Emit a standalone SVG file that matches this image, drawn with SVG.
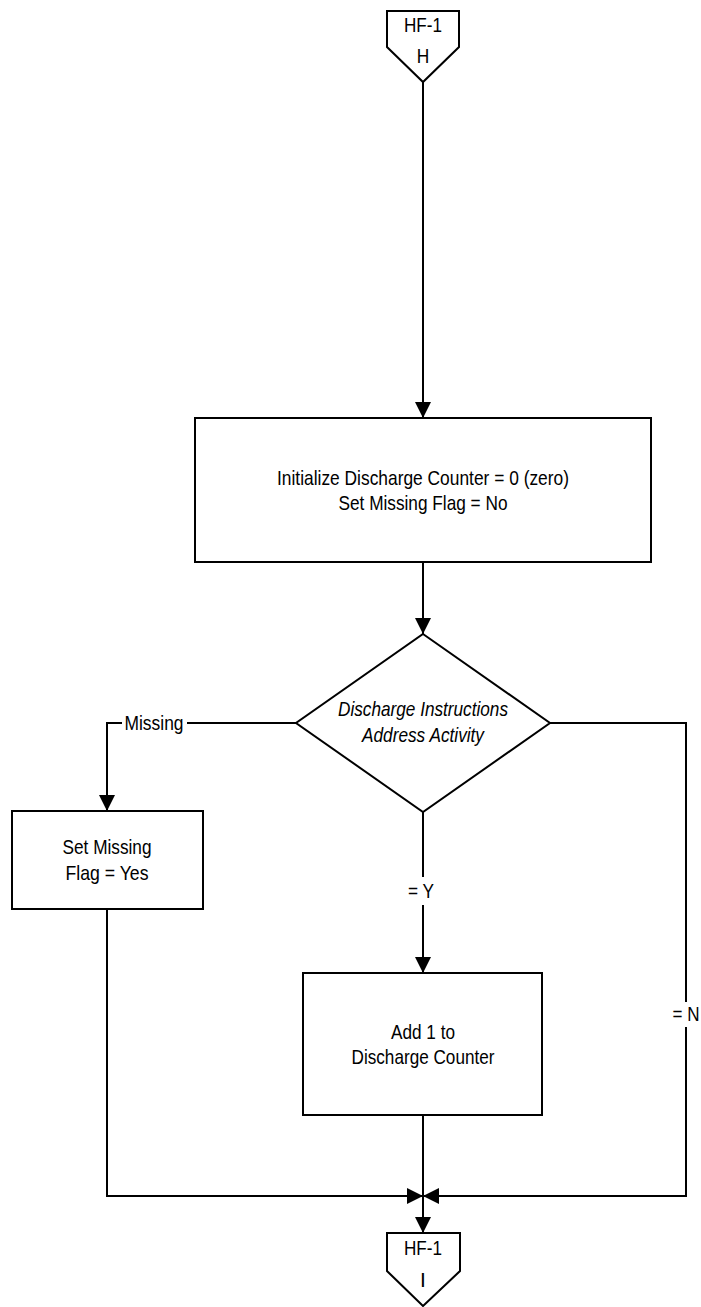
<svg xmlns="http://www.w3.org/2000/svg" width="701" height="1307" viewBox="0 0 701 1307">
<style>
.s{fill:#fff;stroke:#000;stroke-width:2}
.c{fill:none;stroke:#000;stroke-width:2}
text{font-family:"Liberation Sans Narrow","Arial Narrow","Liberation Sans",Arial,sans-serif;font-size:21px;fill:#000;text-anchor:middle}
.i{font-style:italic}
</style>
<defs>
<marker id="a" markerUnits="userSpaceOnUse" markerWidth="16" markerHeight="16" refX="16" refY="8" orient="auto">
<path d="M0,0 L16,8 L0,16 z" fill="#000"/>
</marker>
</defs>
<rect width="701" height="1307" fill="#fff"/>
<g id="connectors">
<path class="c" d="M423,82 V418" marker-end="url(#a)"/>
<path class="c" d="M423,562 V634" marker-end="url(#a)"/>
<path class="c" d="M296,723 H187"/>
<path class="c" d="M122,723 H107 V811" marker-end="url(#a)"/>
<text x="154" y="730" textLength="59" lengthAdjust="spacingAndGlyphs">Missing</text>
<path class="c" d="M423,812 V877"/>
<path class="c" d="M423,905 V973" marker-end="url(#a)"/>
<text x="421" y="898" textLength="26" lengthAdjust="spacingAndGlyphs">= Y</text>
<path class="c" d="M550,723 H686 V1002"/>
<path class="c" d="M686,1027 V1196 H423" marker-end="url(#a)"/>
<text x="686" y="1021" textLength="27" lengthAdjust="spacingAndGlyphs">= N</text>
<path class="c" d="M107,909 V1196 H423" marker-end="url(#a)"/>
<path class="c" d="M423,1115 V1233" marker-end="url(#a)"/>
</g>
<g id="start">
<path class="s" d="M387,11 H459 V47 L423,82 L387,47 Z"/>
<text x="423" y="32" textLength="38" lengthAdjust="spacingAndGlyphs">HF-1</text>
<text x="423" y="63" textLength="12.5" lengthAdjust="spacingAndGlyphs">H</text>
</g>
<g id="init">
<rect class="s" x="195" y="418" width="456" height="144"/>
<text x="423" y="485" textLength="292" lengthAdjust="spacingAndGlyphs">Initialize Discharge Counter = 0 (zero)</text>
<text x="423" y="510" textLength="169" lengthAdjust="spacingAndGlyphs">Set Missing Flag = No</text>
</g>
<g id="decision">
<path class="s" d="M423,634 L550,723 L423,812 L296,723 Z"/>
<text class="i" x="423" y="716" textLength="170" lengthAdjust="spacingAndGlyphs">Discharge Instructions</text>
<text class="i" x="423" y="742" textLength="122" lengthAdjust="spacingAndGlyphs">Address Activity</text>
</g>
<g id="setmissing">
<rect class="s" x="12" y="811" width="191" height="98"/>
<text x="107" y="854" textLength="89" lengthAdjust="spacingAndGlyphs">Set Missing</text>
<text x="107" y="880" textLength="83" lengthAdjust="spacingAndGlyphs">Flag = Yes</text>
</g>
<g id="add">
<rect class="s" x="303" y="973" width="239" height="142"/>
<text x="423" y="1039" textLength="64" lengthAdjust="spacingAndGlyphs">Add 1 to</text>
<text x="423" y="1064" textLength="143" lengthAdjust="spacingAndGlyphs">Discharge Counter</text>
</g>
<g id="end">
<path class="s" d="M387,1233 H460 V1271 L423,1306 L387,1271 Z"/>
<text x="423" y="1255" textLength="38" lengthAdjust="spacingAndGlyphs">HF-1</text>
<text x="423" y="1287">I</text>
</g>
</svg>
